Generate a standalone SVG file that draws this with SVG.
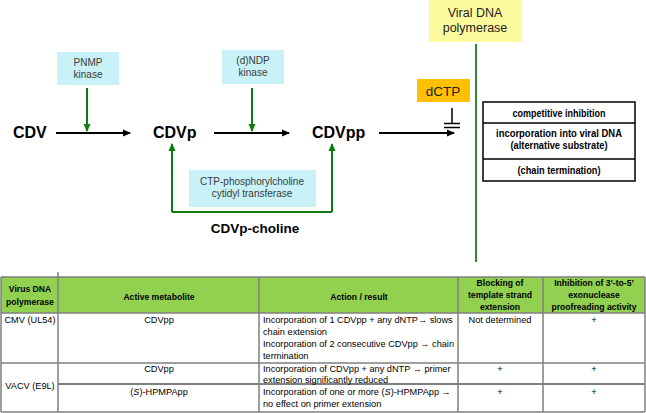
<svg xmlns="http://www.w3.org/2000/svg" width="646" height="413" viewBox="0 0 646 413">
<defs>
<style>
.t{font-family:"Liberation Sans",Arial,sans-serif}
.big{font-size:16px;font-weight:bold;fill:#000}
.small{font-size:10px;fill:#3a3a3a;text-anchor:middle}
.cond{font-size:10px;font-weight:bold;text-anchor:middle}
.blk{stroke:#000;stroke-width:2;fill:none}
.grn{stroke:#117a11;stroke-width:2;fill:none}
.cyan{fill:#c8f2f7}
.tb{font-size:9.2px;fill:#000}
.th{font-size:8.6px;font-weight:bold}
.tc{text-anchor:middle}
.grid{stroke:#7f7f7f;stroke-width:1.5}
</style>
<marker id="ab" markerWidth="8" markerHeight="8" refX="7" refY="4" orient="auto" markerUnits="userSpaceOnUse"><path d="M0,0.5 L8,4 L0,7.5 Z" fill="#000"/></marker>
<marker id="ag" markerWidth="8" markerHeight="8" refX="7" refY="4" orient="auto" markerUnits="userSpaceOnUse"><path d="M0,0.5 L8,4 L0,7.5 Z" fill="#117a11"/></marker>
</defs>
<rect width="646" height="413" fill="#fff"/>

<g id="connectors">
<line class="blk" x1="56" y1="133" x2="130" y2="133" marker-end="url(#ab)"/>
<line class="blk" x1="214" y1="133" x2="289" y2="133" marker-end="url(#ab)"/>
<line class="blk" x1="379" y1="133" x2="454" y2="133" marker-end="url(#ab)"/>
<line class="grn" x1="87" y1="88" x2="87" y2="131" marker-end="url(#ag)"/>
<line class="grn" x1="252" y1="88" x2="252" y2="131" marker-end="url(#ag)"/>
<polyline class="grn" points="172,212 332,212"/>
<line class="grn" x1="172" y1="212" x2="172" y2="144" marker-end="url(#ag)"/>
<line class="grn" x1="332" y1="212" x2="332" y2="144" marker-end="url(#ag)"/>
<line x1="476" y1="44" x2="476" y2="262" stroke="#2e8b2e" stroke-width="2"/>
<line x1="452" y1="108" x2="452" y2="123" stroke="#000" stroke-width="1.5"/>
<line x1="444" y1="123.5" x2="460" y2="123.5" stroke="#000" stroke-width="1.5"/>
<line x1="444" y1="127.5" x2="460" y2="127.5" stroke="#000" stroke-width="1.5"/>
</g>

<g id="cdv"><text class="t big" x="13" y="138">CDV</text></g>
<g id="cdvp"><text class="t big" x="153" y="138">CDVp</text></g>
<g id="cdvpp"><text class="t big" x="312" y="138">CDVpp</text></g>
<g id="cdvp-choline"><text class="t" x="255" y="233" font-size="13.5" font-weight="bold" text-anchor="middle">CDVp-choline</text></g>

<g id="pnmp-kinase">
<rect class="cyan" x="57" y="52" width="62" height="33"/>
<text class="t small" x="88" y="66">PNMP</text>
<text class="t small" x="88" y="78">kinase</text>
</g>
<g id="ndp-kinase">
<rect class="cyan" x="222" y="50" width="62" height="34"/>
<text class="t small" x="253" y="64">(d)NDP</text>
<text class="t small" x="253" y="76">kinase</text>
</g>
<g id="ctp-transferase">
<rect class="cyan" x="189" y="170" width="127" height="37"/>
<text class="t small" x="252" y="185">CTP-phosphorylcholine</text>
<text class="t small" x="252" y="197">cytidyl transferase</text>
</g>
<g id="viral-dna-polymerase">
<rect x="429" y="0" width="93" height="42" fill="#fbfb9e"/>
<text class="t" x="475" y="17" font-size="12.5" text-anchor="middle" fill="#222">Viral DNA</text>
<text class="t" x="475" y="32" font-size="12.5" text-anchor="middle" fill="#222">polymerase</text>
</g>
<g id="dctp">
<rect x="417" y="79" width="53" height="23" fill="#ffc000"/>
<text class="t" x="443" y="96" font-size="13.5" text-anchor="middle" fill="#222">dCTP</text>
</g>
<g id="effects">
<rect x="483" y="102" width="152" height="79" fill="#fff" stroke="#000" stroke-width="1.5"/>
<line x1="483" y1="123" x2="635" y2="123" stroke="#000" stroke-width="1.5"/>
<line x1="483" y1="159" x2="635" y2="159" stroke="#000" stroke-width="1.5"/>
<text class="t cond" x="559" y="116.5" textLength="93" lengthAdjust="spacingAndGlyphs">competitive inhibition</text>
<text class="t cond" x="559" y="137" textLength="126" lengthAdjust="spacingAndGlyphs">incorporation into viral DNA</text>
<text class="t cond" x="559" y="149" textLength="97" lengthAdjust="spacingAndGlyphs">(alternative substrate)</text>
<text class="t cond" x="559" y="173.5" textLength="83" lengthAdjust="spacingAndGlyphs">(chain termination)</text>
</g>

<g id="table">
<rect x="1" y="277" width="644" height="36" fill="#92d050"/>
<line x1="1" y1="363" x2="645" y2="363" class="grid"/>
<line x1="58" y1="384" x2="645" y2="384" stroke="#000" stroke-width="1"/>
<line x1="1" y1="277" x2="645" y2="277" class="grid"/>
<line x1="1" y1="313" x2="645" y2="313" class="grid"/>
<line x1="1" y1="412" x2="645" y2="412" class="grid"/>
<line x1="1" y1="277" x2="1" y2="412" class="grid"/>
<line x1="58" y1="272" x2="58" y2="412" class="grid"/>
<line x1="259" y1="277" x2="259" y2="412" class="grid"/>
<line x1="458" y1="277" x2="458" y2="412" class="grid"/>
<line x1="543" y1="277" x2="543" y2="412" class="grid"/>
<line x1="645" y1="277" x2="645" y2="412" class="grid"/>

<text class="t tb tc th" x="30" y="292">Virus DNA</text>
<text class="t tb tc th" x="30" y="305">polymerase</text>
<text class="t tb tc th" x="159" y="300">Active metabolite</text>
<text class="t tb tc th" x="359" y="300">Action / result</text>
<text class="t tb tc th" x="500" y="286">Blocking of</text>
<text class="t tb tc th" x="500" y="298">template strand</text>
<text class="t tb tc th" x="500" y="310">extension</text>
<text class="t tb tc th" x="594" y="286">Inhibition of 3’-to-5’</text>
<text class="t tb tc th" x="594" y="298">exonuclease</text>
<text class="t tb tc th" x="594" y="310">proofreading activity</text>

<text class="t tb tc" x="30" y="323">CMV (UL54)</text>
<text class="t tb tc" x="159" y="323">CDVpp</text>
<text class="t tb" x="263" y="323">Incorporation of 1 CDVpp  + any dNTP→ slows</text>
<text class="t tb" x="263" y="335">chain extension</text>
<text class="t tb" x="263" y="347">Incorporation of 2 consecutive CDVpp → chain</text>
<text class="t tb" x="263" y="359">termination</text>
<text class="t tb tc" x="500" y="323">Not determined</text>
<text class="t tb tc" x="594" y="323">+</text>

<text class="t tb tc" x="30" y="389">VACV (E9L)</text>
<text class="t tb tc" x="159" y="372">CDVpp</text>
<text class="t tb" x="263" y="372">Incorporation of CDVpp + any dNTP → primer</text>
<text class="t tb" x="263" y="383">extension significantly reduced</text>
<text class="t tb tc" x="500" y="372">+</text>
<text class="t tb tc" x="594" y="372">+</text>

<text class="t tb tc" x="159" y="395">(<tspan font-style="italic">S</tspan>)-HPMPApp</text>
<text class="t tb" x="263" y="395">Incorporation of one or more (<tspan font-style="italic">S</tspan>)-HPMPApp →</text>
<text class="t tb" x="263" y="407">no effect on primer extension</text>
<text class="t tb tc" x="500" y="395">+</text>
<text class="t tb tc" x="594" y="395">+</text>
</g>
</svg>
